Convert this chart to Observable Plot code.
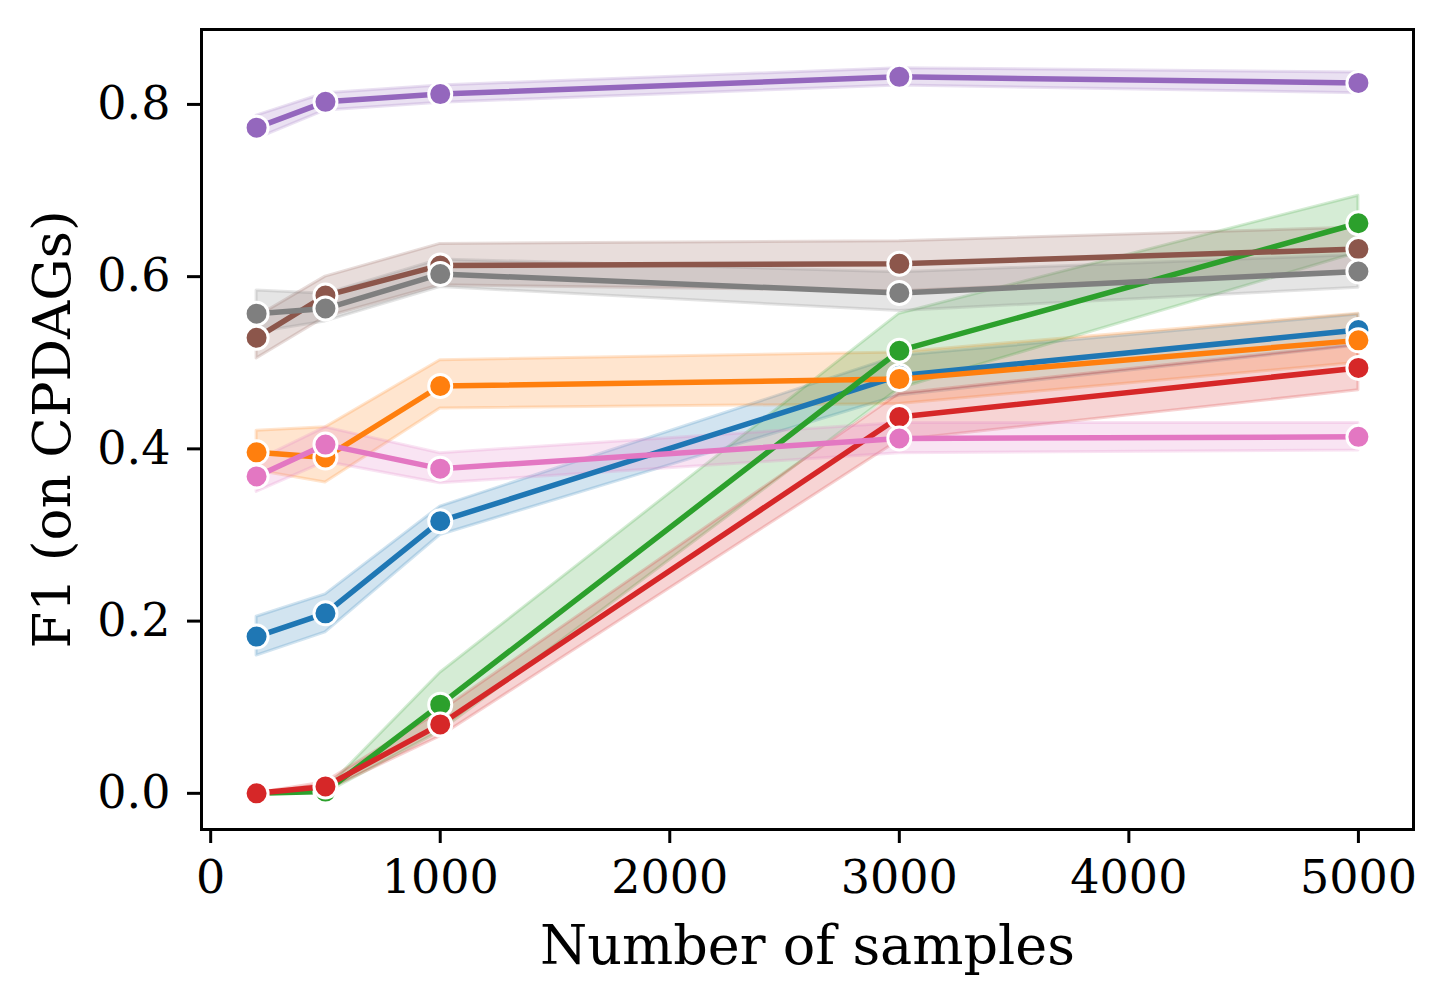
<!DOCTYPE html>
<html>
<head>
<meta charset="utf-8">
<script src="https://cdn.jsdelivr.net/npm/d3@7"></script>
<script src="https://cdn.jsdelivr.net/npm/@observablehq/plot@0.6"></script>
<style>
  html, body { margin: 0; padding: 0; background: #fff; }
  #chart svg { display: block; font-family: "DejaVu Serif", serif; }
  g[aria-label="x-axis label"] text { font-size: 54px; }
  g[aria-label="y-axis label"] text { font-size: 53px; }
</style>
</head>
<body>
<div id="chart"></div>
<script>
const samples = [200, 500, 1000, 3000, 5000];
const xTicks = [0, 1000, 2000, 3000, 4000, 5000];
const yTicks = [0.0, 0.2, 0.4, 0.6, 0.8];

const seriesNames = ["blue", "orange", "green", "red", "purple", "brown", "pink", "grey"];
const seriesColors = ["#1f77b4", "#ff7f0e", "#2ca02c", "#d62728", "#9467bd", "#8c564b", "#e377c2", "#7f7f7f"];

const blueMean = [0.182, 0.209, 0.316, 0.485, 0.538];
const blueLo   = [0.160, 0.187, 0.300, 0.462, 0.520];
const blueHi   = [0.205, 0.231, 0.333, 0.508, 0.556];

const orangeMean = [0.396, 0.390, 0.473, 0.481, 0.526];
const orangeLo   = [0.375, 0.361, 0.447, 0.452, 0.500];
const orangeHi   = [0.421, 0.425, 0.503, 0.512, 0.557];

const greenMean = [0.000, 0.002, 0.103, 0.514, 0.662];
const greenLo   = [0.000, 0.000, 0.072, 0.470, 0.628];
const greenHi   = [0.000, 0.004, 0.140, 0.557, 0.694];

const redMean = [0.000, 0.008, 0.080, 0.437, 0.494];
const redLo   = [0.000, 0.003, 0.066, 0.410, 0.468];
const redHi   = [0.000, 0.013, 0.095, 0.464, 0.521];

const purpleMean = [0.773, 0.803, 0.812, 0.832, 0.825];
const purpleLo   = [0.760, 0.793, 0.802, 0.822, 0.813];
const purpleHi   = [0.787, 0.813, 0.822, 0.842, 0.837];

const brownMean = [0.529, 0.578, 0.613, 0.615, 0.632];
const brownLo   = [0.505, 0.553, 0.590, 0.583, 0.605];
const brownHi   = [0.553, 0.600, 0.638, 0.641, 0.657];

const pinkMean = [0.368, 0.405, 0.377, 0.412, 0.414];
const pinkLo   = [0.350, 0.385, 0.360, 0.395, 0.398];
const pinkHi   = [0.386, 0.425, 0.395, 0.430, 0.430];

const greyMean = [0.557, 0.563, 0.603, 0.581, 0.606];
const greyLo   = [0.535, 0.548, 0.588, 0.560, 0.587];
const greyHi   = [0.584, 0.580, 0.620, 0.605, 0.625];

const seriesMeans = [blueMean, orangeMean, greenMean, redMean, purpleMean, brownMean, pinkMean, greyMean];
const seriesLos = [blueLo, orangeLo, greenLo, redLo, purpleLo, brownLo, pinkLo, greyLo];
const seriesHis = [blueHi, orangeHi, greenHi, redHi, purpleHi, brownHi, pinkHi, greyHi];

const tables = seriesNames.map((name, i) =>
  samples.map((s, j) => ({series: name, x: s, mean: seriesMeans[i][j], lo: seriesLos[i][j], hi: seriesHis[i][j]}))
);

const bandMarks = tables.map((t, i) =>
  Plot.areaY(t, {x: "x", y1: "lo", y2: "hi", fill: seriesColors[i], fillOpacity: 0.2,
    stroke: seriesColors[i], strokeOpacity: 0.2, strokeWidth: 3})
);
const lineMarks = tables.flatMap((t, i) => [
  Plot.line(t, {x: "x", y: "mean", stroke: seriesColors[i], strokeWidth: 5.5}),
  Plot.dot(t, {x: "x", y: "mean", r: 11.5, fill: seriesColors[i], stroke: "white", strokeWidth: 3})
]);

const chart = Plot.plot({
  width: 1447,
  height: 1003,
  marginLeft: 201,
  marginRight: 34,
  marginTop: 29,
  marginBottom: 174,
  style: {fontFamily: "DejaVu Serif", background: "white", color: "black"},
  x: {domain: [-40, 5240]},
  y: {domain: [-0.042, 0.887]},
  marks: [
    ...bandMarks,
    ...lineMarks,
    Plot.frame({stroke: "black", strokeWidth: 3}),
    Plot.axisX(xTicks, {tickSize: 14, tickPadding: 17, strokeWidth: 3, fontSize: 46,
      tickFormat: d3.format("d"), label: "Number of samples", labelAnchor: "center", labelArrow: "none", labelOffset: 134}),
    Plot.axisY(yTicks, {tickSize: 14, tickPadding: 17, strokeWidth: 3, fontSize: 46,
      tickFormat: d3.format(".1f"), label: "F1 (on CPDAGs)", labelAnchor: "center", labelArrow: "none", labelOffset: 169})
  ]
});
document.getElementById("chart").appendChild(chart);
</script>
</body>
</html>
